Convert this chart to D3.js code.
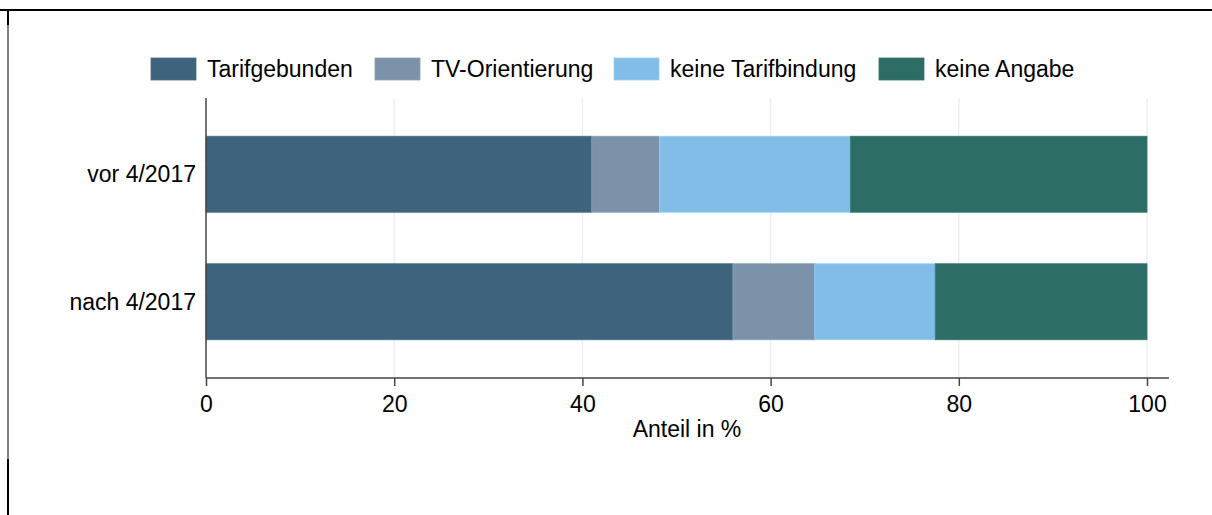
<!DOCTYPE html>
<html>
<head>
<meta charset="utf-8">
<script src="https://cdn.jsdelivr.net/npm/d3@7"></script>
<style>
  body { margin: 0; background: #fff; }
  text { font-family: Arial, "Liberation Sans", sans-serif; fill: #000; }
</style>
</head>
<body>
<svg id="chart" width="1212" height="515"></svg>
<script>
// data (Anteil in %)
const groups = ["vor 4/2017", "nach 4/2017"];
const seriesNames = ["Tarifgebunden", "TV-Orientierung", "keine Tarifbindung", "keine Angabe"];
const seriesColors = ["#3e647d", "#7b92a8", "#82bde7", "#2d6d66"];
const tarifgebunden = [41.0, 56.0];
const tvOrientierung = [7.2, 8.7];
const keineTarifbindung = [20.3, 12.8];
const keineAngabe = [31.5, 22.5];
const xTicks = [0, 20, 40, 60, 80, 100];

const fontSize = 23;
const svg = d3.select("#chart");

// frame bits of the original screenshot
svg.append("line").attr("x1", 0).attr("x2", 1212).attr("y1", 10).attr("y2", 10)
  .attr("stroke", "#000").attr("stroke-width", 2);
svg.append("line").attr("x1", 8).attr("x2", 8).attr("y1", 10).attr("y2", 459)
  .attr("stroke", "#000").attr("stroke-width", 1);
svg.append("line").attr("x1", 8).attr("x2", 8).attr("y1", 10).attr("y2", 25)
  .attr("stroke", "#000").attr("stroke-width", 2);
svg.append("line").attr("x1", 8).attr("x2", 8).attr("y1", 459).attr("y2", 515)
  .attr("stroke", "#000").attr("stroke-width", 2);

const plot = { left: 206, right: 1169, top: 98, bottom: 378 };
const x = d3.scaleLinear().domain([0, 100]).range([206, 1147]);
const y = d3.scaleBand().domain(groups).range([plot.top, plot.bottom])
  .paddingInner(0.404).paddingOuter(0.3);

// grid
svg.append("g").selectAll("line").data(xTicks.filter(d => d > 0)).enter().append("line")
  .attr("x1", d => x(d)).attr("x2", d => x(d))
  .attr("y1", plot.top).attr("y2", plot.bottom)
  .attr("stroke", "#eaf0f5").attr("stroke-width", 1.5);

// stacked bars
const rows = groups.map((g, i) => ({
  group: g,
  "Tarifgebunden": tarifgebunden[i],
  "TV-Orientierung": tvOrientierung[i],
  "keine Tarifbindung": keineTarifbindung[i],
  "keine Angabe": keineAngabe[i]
}));
const stacked = d3.stack().keys(seriesNames)(rows);
const color = d3.scaleOrdinal().domain(seriesNames).range(seriesColors);

svg.append("g").selectAll("g").data(stacked).enter().append("g")
  .attr("fill", d => color(d.key))
  .attr("stroke", d => d3.color(color(d.key)).brighter(0.3))
  .attr("stroke-width", 0.8)
  .selectAll("rect").data(d => d).enter().append("rect")
  .attr("x", d => x(d[0]))
  .attr("width", d => x(d[1]) - x(d[0]))
  .attr("y", d => y(d.data.group))
  .attr("height", y.bandwidth());

// x axis
const xAxis = svg.append("g").attr("transform", `translate(0,${plot.bottom})`)
  .call(d3.axisBottom(x).tickValues(xTicks).tickSize(8).tickPadding(10));
xAxis.select(".domain").remove();
xAxis.selectAll(".tick line").attr("stroke", "#444").attr("stroke-width", 1.5);
xAxis.selectAll(".tick text").attr("font-size", fontSize).attr("font-family", "Arial, 'Liberation Sans', sans-serif").attr("fill", "#000");
svg.append("line").attr("x1", plot.left).attr("x2", plot.right)
  .attr("y1", plot.bottom).attr("y2", plot.bottom)
  .attr("stroke", "#444").attr("stroke-width", 1.5);

// y axis
svg.append("line").attr("x1", plot.left).attr("x2", plot.left)
  .attr("y1", plot.top).attr("y2", plot.bottom)
  .attr("stroke", "#444").attr("stroke-width", 1.5);
svg.append("g").selectAll("text").data(groups).enter().append("text")
  .attr("x", plot.left - 10)
  .attr("y", d => y(d) + y.bandwidth() / 2)
  .attr("dy", "0.35em")
  .attr("text-anchor", "end")
  .attr("font-size", fontSize)
  .text(d => d);

svg.append("text").attr("x", 687).attr("y", 437).attr("text-anchor", "middle")
  .attr("font-size", fontSize).text("Anteil in %");

// legend
const legendX = [151, 375, 614, 879];
const legend = svg.append("g").selectAll("g").data(seriesNames).enter().append("g")
  .attr("transform", (d, i) => `translate(${legendX[i]},58)`);
legend.append("rect").attr("width", 45).attr("height", 22)
  .attr("fill", d => color(d))
  .attr("stroke", d => d3.color(color(d)).brighter(0.3)).attr("stroke-width", 0.8);
legend.append("text").attr("x", 56).attr("y", 11).attr("dy", "0.35em")
  .attr("font-size", fontSize).text(d => d);
</script>
</body>
</html>
